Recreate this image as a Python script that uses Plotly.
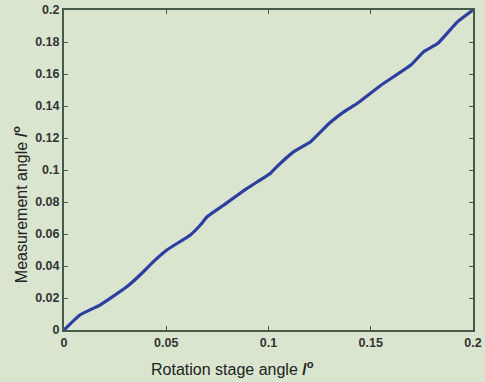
import plotly.graph_objects as go

x_vals = [0, 0.0078, 0.0176, 0.0307, 0.0397, 0.042, 0.0503, 0.0618, 0.0667, 0.07, 0.078,
          0.0895, 0.101, 0.104, 0.1124, 0.1206, 0.130, 0.137, 0.1435, 0.155, 0.1696,
          0.176, 0.1827, 0.1925, 0.2]
y_vals = [0, 0.0094, 0.0156, 0.027, 0.0375, 0.0406, 0.05, 0.0594, 0.0656, 0.0708, 0.078,
          0.0885, 0.098, 0.102, 0.1115, 0.1177, 0.1295, 0.1365, 0.1417, 0.153, 0.1656,
          0.174, 0.179, 0.1927, 0.2]
x_ticks = [0, 0.05, 0.1, 0.15, 0.2]
x_tick_labels = ["0", "0.05", "0.1", "0.15", "0.2"]
y_ticks = [0, 0.02, 0.04, 0.06, 0.08, 0.1, 0.12, 0.14, 0.16, 0.18, 0.2]
y_tick_labels = ["0", "0.02", "0.04", "0.06", "0.08", "0.1", "0.12", "0.14", "0.16", "0.18", "0.2"]
x_title = "Rotation stage angle <b>/</b><sup><b>o</b></sup>"
y_title = "Measurement angle <b>/</b><sup><b>o</b></sup>"

bg = "#d9e5cf"
axis_col = "#465a4c"

fig = go.Figure()
fig.add_trace(go.Scatter(x=x_vals, y=y_vals, mode="lines",
                         line=dict(color="#2f3f9f", width=3.2, shape="spline", smoothing=0.4),
                         showlegend=False))

fig.update_layout(
    width=485, height=382,
    paper_bgcolor=bg, plot_bgcolor=bg,
    margin=dict(l=64, r=12, t=10, b=52),
    font=dict(family="Liberation Sans, Arial", color="#2a2a2a"),
)
fig.update_xaxes(
    range=[0, 0.2], tickvals=x_ticks, ticktext=[f"<b>{t}</b>" for t in x_tick_labels],
    showline=True, linecolor=axis_col, linewidth=2, mirror="ticks",
    ticks="inside", ticklen=4, tickcolor=axis_col, tickwidth=1,
    showgrid=False, zeroline=False, tickfont=dict(size=12.5, color="#333333"),
    automargin=False,
)
fig.update_yaxes(
    range=[0, 0.2], tickvals=y_ticks, ticktext=[f"<b>{t}</b>" for t in y_tick_labels],
    showline=True, linecolor=axis_col, linewidth=2, mirror="ticks",
    ticks="inside", ticklen=4, tickcolor=axis_col, tickwidth=1,
    showgrid=False, zeroline=False, tickfont=dict(size=12.5, color="#333333"),
    automargin=False,
)
fig.add_annotation(text=x_title, xref="paper", yref="paper", x=0.413, y=0,
                   xanchor="center", yanchor="middle", yshift=-38, showarrow=False,
                   font=dict(size=16, color="#222222"))
fig.add_annotation(text=y_title, xref="paper", yref="paper", x=0, y=0.39,
                   xanchor="center", yanchor="middle", xshift=-44, showarrow=False,
                   textangle=-90, font=dict(size=16, color="#222222"))
fig.write_html("out.html", config={"displayModeBar": False},
               post_script="document.body.style.margin='0';document.body.style.background='" + bg + "';")
